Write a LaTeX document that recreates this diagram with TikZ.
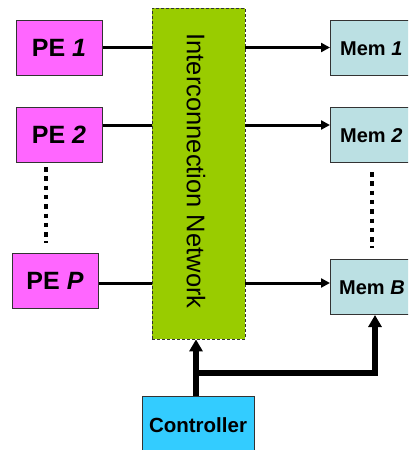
\documentclass[tikz,border=0pt]{standalone}
\usepackage{fontspec}
\setmainfont{Liberation Sans}
\usetikzlibrary{arrows.meta}
\definecolor{pefill}{HTML}{FF66FF}
\definecolor{netfill}{HTML}{99CC00}
\definecolor{memfill}{HTML}{BBE0E3}
\definecolor{ctrlfill}{HTML}{33CCFF}
\definecolor{edge}{HTML}{333333}
\tikzset{
  pebox/.style={draw=edge, line width=1pt, fill=pefill, minimum width=86pt, minimum height=55pt,
    inner sep=0pt, font=\fontsize{25}{28}\selectfont\bfseries},
  membox/.style={draw=edge, line width=1pt, fill=memfill, minimum width=90pt, minimum height=55pt,
    inner sep=0pt, anchor=west, font=\fontsize{20}{24}\selectfont\bfseries},
  memlabel/.style={anchor=west, inner sep=0pt, font=\fontsize{20}{24}\selectfont\bfseries},
  netbox/.style={draw=edge, line width=0.8pt, dash pattern=on 3pt off 2pt, fill=netfill,
    minimum width=93pt, minimum height=331pt, inner sep=0pt},
  ctrlbox/.style={draw=edge, line width=1pt, fill=ctrlfill, minimum width=112pt, minimum height=58pt,
    inner sep=0pt, font=\fontsize{20.5}{24}\selectfont\bfseries},
  link/.style={line width=3pt},
  linkarrow/.style={line width=3pt, -{Triangle[length=9pt,width=9pt]}},
  ctrlarrow/.style={line width=5.5pt, -{Triangle[length=12pt,width=13pt]}},
  ellipsisdots/.style={line width=4pt, dash pattern=on 4.5pt off 4.8pt},
}
\begin{document}
\begin{tikzpicture}[x=1pt,y=-1pt]
  \useasboundingbox (0,0) rectangle (408,450);
  \clip (0,0) rectangle (408,450);

  % interconnection network
  \node[netbox] (net) at (198.5,173.5) {};
  \node[rotate=-90, font=\fontsize{25.5}{28}\selectfont] (netlabel) at (196,171) {Interconnection Network};

  % processing elements
  \node[pebox] (pe1) at (59,47.5) {PE \textit{1}};
  \node[pebox] (pe2) at (59,134.5) {PE \textit{2}};
  \node[pebox] (pep) at (55,281) {PE \textit{P}};

  % memory banks (boxes run past the right edge)
  \node[membox] (mem1) at (330,47.5) {};
  \node[membox] (mem2) at (330,134.5) {};
  \node[membox] (memb) at (330,287) {};
  \node[memlabel] (mem1label) at (340,48.5) {Mem \textit{1}};
  \node[memlabel] (mem2label) at (340,135.5) {Mem \textit{2}};
  \node[memlabel] (memblabel) at (339,288) {Mem \textit{B}};

  % controller
  \node[ctrlbox] (ctrl) at (198,425) {Controller};

  % ellipsis columns
  \coordinate (ldots top) at (46,167);
  \coordinate (ldots bot) at (46,243);
  \coordinate (rdots top) at (372,172);
  \coordinate (rdots bot) at (372,248);
  \draw[ellipsisdots] (ldots top) -- (ldots bot);
  \draw[ellipsisdots] (rdots top) -- (rdots bot);

  % PE -> network
  \draw[link] (pe1.east) -- (net.west |- pe1.east);
  \draw[link] (pe2.east |- 0,125) -- (net.west |- 0,125);
  \draw[link] (pep.east |- 0,283) -- (net.west |- 0,283);

  % network -> memory
  \draw[linkarrow] (net.east |- mem1.west) -- (mem1.west);
  \draw[linkarrow] (net.east |- 0,125) -- (mem2.west |- 0,125);
  \draw[linkarrow] (net.east |- 0,283) -- (memb.west |- 0,283);

  % controller signals
  \coordinate (cbase) at (196,396);
  \coordinate (split) at (196,373);
  \coordinate (mbin) at (375,315);
  \draw[ctrlarrow] (cbase) -- (net.south -| cbase);
  \draw[ctrlarrow, line join=miter] (split) -| (mbin);
\end{tikzpicture}
\end{document}
